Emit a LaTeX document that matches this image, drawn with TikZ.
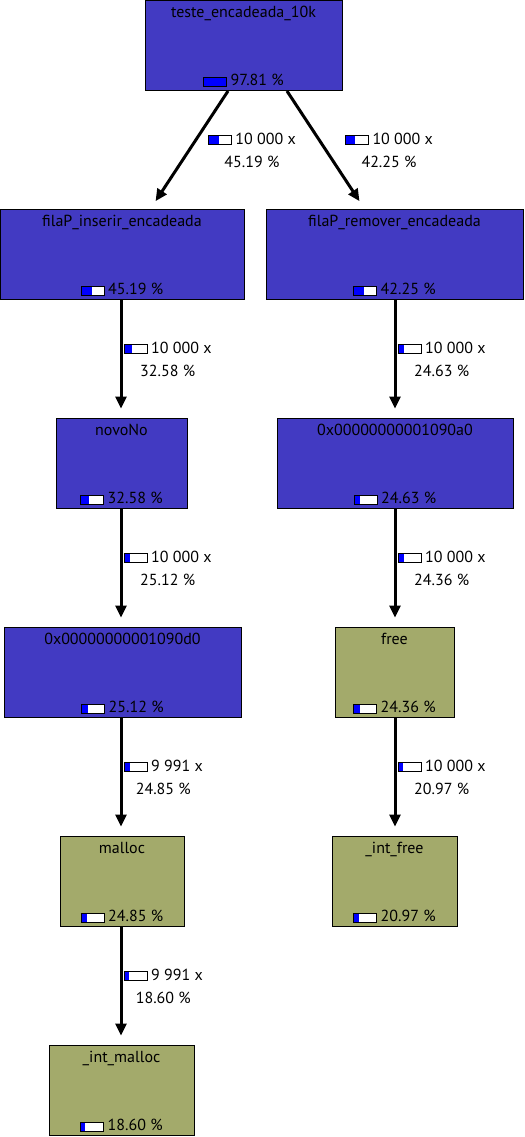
\documentclass[tikz,border=0pt]{standalone}
\usepackage{fontspec}
\setmainfont{PT Sans}
\usepackage{tikz}
\usetikzlibrary{arrows.meta}

\definecolor{fnblue}{RGB}{66,58,194}
\definecolor{fnolive}{RGB}{163,170,107}
\definecolor{barblue}{RGB}{0,0,255}

% small cost bar, #1 = fraction filled
\newlength{\barw}
\setlength{\barw}{16.5pt}
\newcommand{\pbar}[1]{{\setlength{\fboxsep}{0pt}\setlength{\fboxrule}{0.75pt}%
  \fcolorbox{black}{white}{\makebox[\barw][l]{\textcolor{barblue}{\rule{#1\barw}{6pt}}}}}\hspace{2.5pt}}

\begin{document}
\begin{tikzpicture}[
    x=0.75pt, y=-0.75pt,
    font=\fontsize{12}{17.25}\selectfont,
    fn/.style={draw=black, line width=0.75pt, minimum height=67.5pt, inner sep=0pt},
    cyc/.style={fn, fill=fnblue, every label/.append style={text=white}},
    lib/.style={fn, fill=fnolive, every label/.append style={text=black}},
    ttl/.style={anchor=north, inner sep=0pt, yshift=-4.5pt},
    pct/.style={anchor=south, inner sep=0pt, yshift=3pt},
    cnt/.style={align=center, inner sep=0pt, anchor=west},
    arr/.style={-{Triangle[length=9pt,width=8pt]}, line width=2.25pt, shorten >=7pt}
]
\useasboundingbox (0,0) rectangle (524,1137);

% functions
\node[cyc, minimum width=197*0.75pt, label={[ttl]north:teste\_encadeada\_10k},
  label={[pct]south:\pbar{0.9781}97.81~\%}] (main) at (243.5,45.5) {};
\node[cyc, minimum width=244*0.75pt, label={[ttl]north:filaP\_inserir\_encadeada},
  label={[pct]south:\pbar{0.4519}45.19~\%}] (ins) at (122,254.5) {};
\node[cyc, minimum width=257*0.75pt, label={[ttl]north:filaP\_remover\_encadeada},
  label={[pct]south:\pbar{0.4225}42.25~\%}] (rem) at (394.5,254.5) {};
\node[cyc, minimum width=131*0.75pt, label={[ttl]north:novoNo},
  label={[pct]south:\pbar{0.3258}32.58~\%}] (novo) at (121.5,463.5) {};
\node[cyc, minimum width=236*0.75pt, label={[ttl]north:0x00000000001090a0},
  label={[pct]south:\pbar{0.2463}24.63~\%}] (adra) at (395,463.5) {};
\node[cyc, minimum width=237*0.75pt, label={[ttl]north:0x00000000001090d0},
  label={[pct]south:\pbar{0.2512}25.12~\%}] (adrd) at (122.5,672.5) {};
\node[lib, minimum width=119*0.75pt, label={[ttl]north:free},
  label={[pct]south:\pbar{0.2436}24.36~\%}] (free) at (394.5,672.5) {};
\node[lib, minimum width=124*0.75pt, label={[ttl]north:malloc},
  label={[pct]south:\pbar{0.2485}24.85~\%}] (malloc) at (122,881.5) {};
\node[lib, minimum width=125*0.75pt, label={[ttl]north:\_int\_free},
  label={[pct]south:\pbar{0.2097}20.97~\%}] (ifree) at (394.5,881.5) {};
\node[lib, minimum width=145*0.75pt, label={[ttl]north:\_int\_malloc},
  label={[pct]south:\pbar{0.1860}18.60~\%}] (imalloc) at (121.5,1090.5) {};

% calls
\draw[arr] ([xshift=-11.6pt]main.south) -- ([xshift=21.3pt]ins.north)
  node[cnt, midway, xshift=13pt] {\pbar{0.4519}10 000 x\\45.19 \%};
\draw[arr] ([xshift=32.6pt]main.south) -- ([xshift=-22.4pt]rem.north)
  node[cnt, midway, xshift=13.4pt] {\pbar{0.4225}10 000 x\\42.25 \%};
\draw[arr] (ins.south -| 121,0) -- (novo.north -| 121,0)
  node[cnt, midway, xshift=1pt] {\pbar{0.3258}10 000 x\\32.58 \%};
\draw[arr] (novo.south -| 121,0) -- (adrd.north -| 121,0)
  node[cnt, midway, xshift=1pt] {\pbar{0.2512}10 000 x\\25.12 \%};
\draw[arr] (adrd.south -| 121,0) -- (malloc.north -| 121,0)
  node[cnt, midway, xshift=1pt] {\pbar{0.2485}9 991 x\\24.85 \%};
\draw[arr] (malloc.south -| 121,0) -- (imalloc.north -| 121,0)
  node[cnt, midway, xshift=1pt] {\pbar{0.1860}9 991 x\\18.60 \%};
\draw[arr] (rem.south -| 395,0) -- (adra.north -| 395,0)
  node[cnt, midway, xshift=1pt] {\pbar{0.2463}10 000 x\\24.63 \%};
\draw[arr] (adra.south -| 395,0) -- (free.north -| 395,0)
  node[cnt, midway, xshift=1pt] {\pbar{0.2436}10 000 x\\24.36 \%};
\draw[arr] (free.south -| 395,0) -- (ifree.north -| 395,0)
  node[cnt, midway, xshift=1pt] {\pbar{0.2097}10 000 x\\20.97 \%};
\end{tikzpicture}
\end{document}
